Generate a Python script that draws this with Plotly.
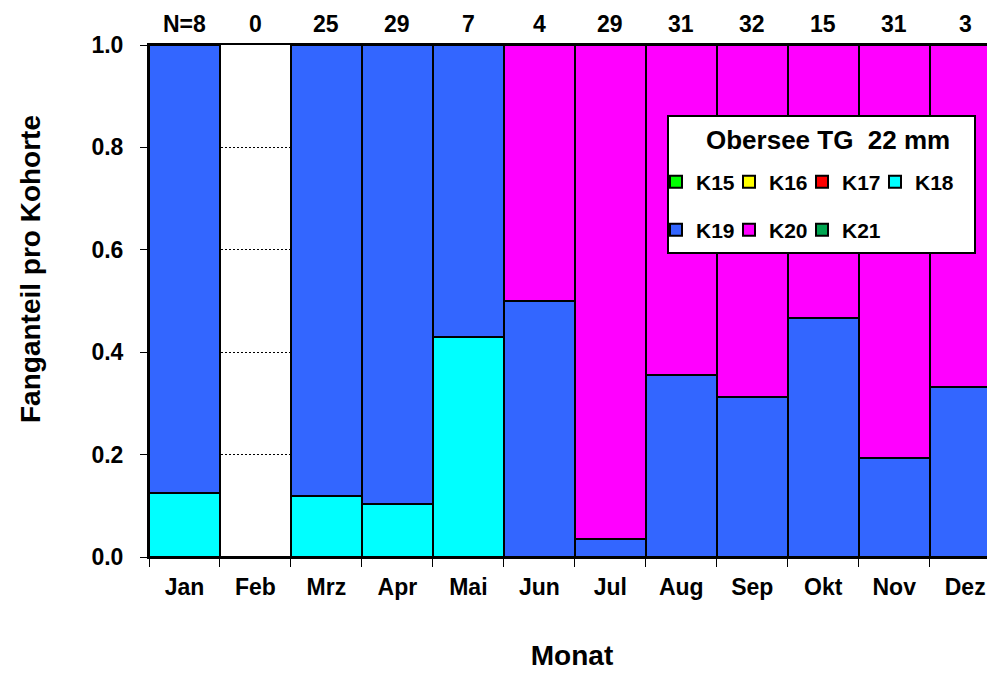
import plotly.graph_objects as go

months = ["Jan", "Feb", "Mrz", "Apr", "Mai", "Jun", "Jul", "Aug", "Sep", "Okt", "Nov", "Dez"]
n_counts = [8, 0, 25, 29, 7, 4, 29, 31, 32, 15, 31, 3]

k15 = [0, 0, 0, 0, 0, 0, 0, 0, 0, 0, 0, 0]
k16 = [0, 0, 0, 0, 0, 0, 0, 0, 0, 0, 0, 0]
k17 = [0, 0, 0, 0, 0, 0, 0, 0, 0, 0, 0, 0]
k18 = [0.125, 0, 0.12, 0.103, 0.429, 0, 0, 0, 0, 0, 0, 0]
k19 = [0.875, 0, 0.88, 0.897, 0.571, 0.5, 0.0345, 0.355, 0.3125, 0.467, 0.194, 0.333]
k20 = [0, 0, 0, 0, 0, 0.5, 0.9655, 0.645, 0.6875, 0.533, 0.806, 0.667]
k21 = [0, 0, 0, 0, 0, 0, 0, 0, 0, 0, 0, 0]

series = [
    ("K15", k15, "#00ff00", "legend"),
    ("K16", k16, "#ffff00", "legend"),
    ("K17", k17, "#ff0000", "legend"),
    ("K18", k18, "#00ffff", "legend"),
    ("K19", k19, "#3366ff", "legend2"),
    ("K20", k20, "#ff00ff", "legend2"),
    ("K21", k21, "#00a651", "legend2"),
]

FONT = "Liberation Sans, Arial, sans-serif"

fig = go.Figure()
for name, vals, color, lg in series:
    fig.add_trace(go.Bar(
        x=months, y=vals, name=name, legend=lg,
        marker=dict(color=color, line=dict(color="black", width=2)),
    ))

# invisible spacer entries so the last legend label of each row is not clipped
for lg in ["legend", "legend2"]:
    fig.add_trace(go.Bar(
        x=months, y=[0] * len(months), name="\u00a0", legend=lg, hoverinfo="skip",
        marker=dict(color="rgba(0,0,0,0)", line=dict(width=0)),
    ))

for m, n in zip(months, n_counts):
    txt = f"N={n}" if m == "Jan" else str(n)
    fig.add_annotation(x=m, y=1.0, yref="y", text=txt, showarrow=False,
                       yanchor="bottom", yshift=7, borderpad=0,
                       font=dict(size=23, color="black", family=FONT, weight="bold"))

# plot area on screen: x 149..995, y 45..557
def px(xpix):
    return (xpix - 149) / 846.0

def py(ypix):
    return (557 - ypix) / 512.0

# y axis title (placed like the original, slightly above the axis centre)
fig.add_annotation(xref="paper", yref="paper", x=px(30), y=py(269),
                   text="Fanganteil pro Kohorte", textangle=-90, showarrow=False,
                   xanchor="center", yanchor="middle",
                   font=dict(size=28, color="black", family=FONT, weight="bold"))

LEG_L = 656
fig.add_shape(type="rect", xref="paper", yref="paper",
              x0=px(LEG_L + 12), x1=px(LEG_L + 319), y0=py(253), y1=py(116),
              fillcolor="white", line=dict(color="black", width=2), layer="above")
fig.add_annotation(xref="paper", yref="paper", x=px(828), y=py(140),
                   text="Obersee TG\u00a0 22 mm", showarrow=False,
                   xanchor="center", yanchor="middle",
                   font=dict(size=26, color="black", family=FONT, weight="bold"))

legend_common = dict(
    orientation="h", xanchor="left", yanchor="middle", traceorder="normal",
    bgcolor="rgba(0,0,0,0)", borderwidth=0,
    font=dict(size=21, family=FONT, weight="bold", color="black"),
    entrywidth=28, itemwidth=30,
)

fig.update_layout(
    width=987, height=663,
    margin=dict(l=141, r=0, t=37, b=114, autoexpand=False),
    barmode="stack", bargap=0,
    plot_bgcolor="white", paper_bgcolor="white",
    font=dict(family=FONT, color="black"),
    legend=dict(x=px(LEG_L), y=py(182), **legend_common),
    legend2=dict(x=px(LEG_L), y=py(230), **legend_common),
    xaxis=dict(
        type="category", range=[-0.5, 11.42], automargin=False,
        tickson="boundaries", ticks="outside", ticklen=8, tickcolor="black", tickwidth=1,
        showline=True, linecolor="black", linewidth=2, mirror=True,
        showgrid=False,
        tickfont=dict(size=23, family=FONT, weight="bold"),
        ticklabelstandoff=8,
        title=dict(text="Monat", font=dict(size=28, weight="bold"), standoff=61),
    ),
    yaxis=dict(
        range=[0, 1.0], tickvals=[0, 0.2, 0.4, 0.6, 0.8, 1.0], tickformat=".1f",
        automargin=False,
        ticks="outside", ticklen=7, tickcolor="black",
        showline=True, linecolor="black", linewidth=2,
        showgrid=True, gridcolor="black", griddash="2px,2px", gridwidth=1,
        zeroline=False,
        tickfont=dict(size=23, family=FONT, weight="bold"),
        ticklabelstandoff=12,
    ),
)

fig.write_html("out.html")
